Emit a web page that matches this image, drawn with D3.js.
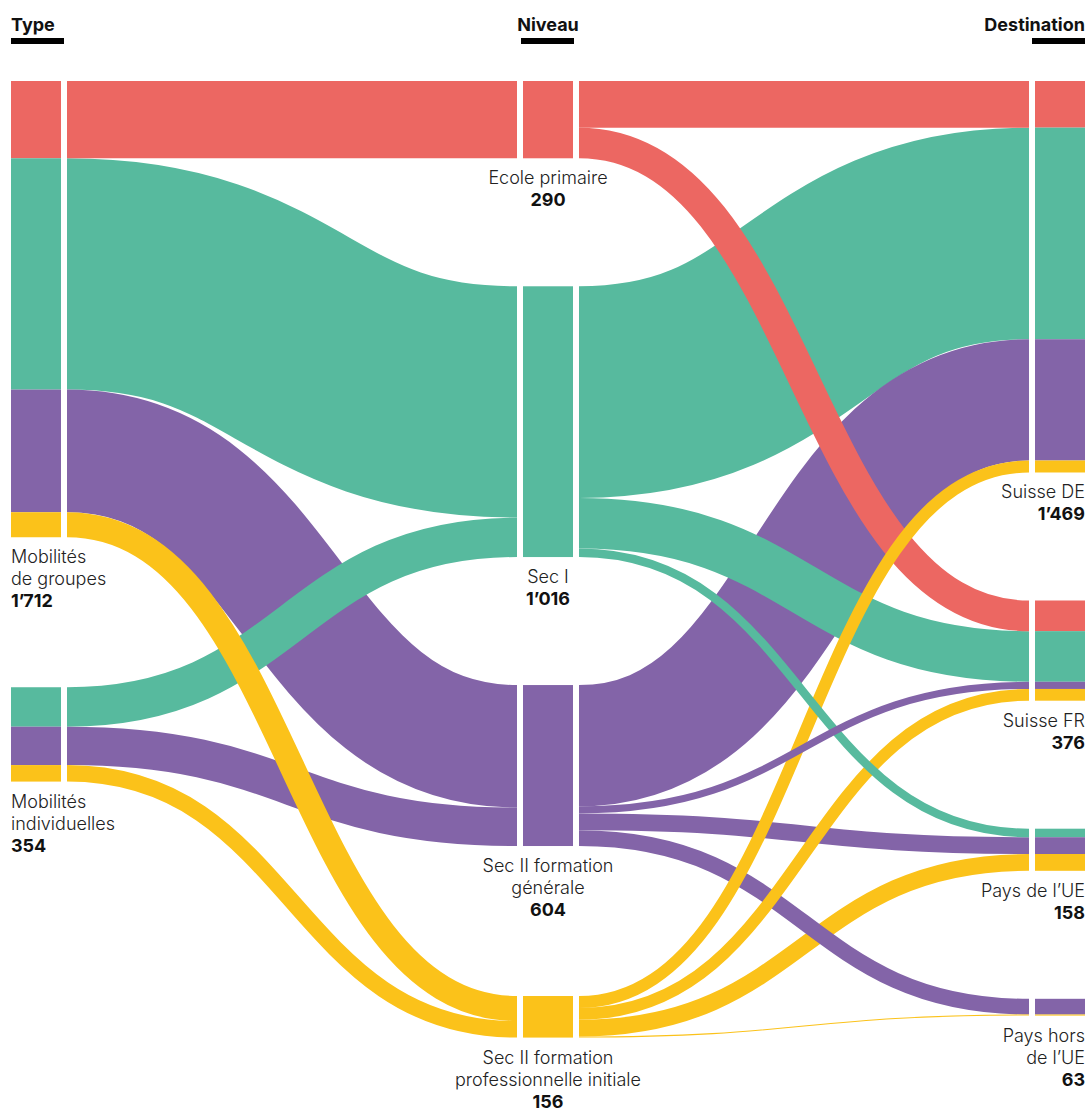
<!DOCTYPE html>
<html>
<head>
<meta charset="utf-8">
<script src="https://cdn.jsdelivr.net/npm/d3@7"></script>
<style>
  body { margin: 0; background: #fff; }
  svg { display: block; font-family: Inter, "Noto Sans", sans-serif; }
  .lbl { font-size: 18px; font-weight: 300; fill: #222; }
  .num { font-size: 18px; font-weight: 700; fill: #111; }
  .head { font-size: 18px; font-weight: 700; fill: #111; }
</style>
</head>
<body>
<svg class="sankey"></svg>
<script>
var headers = ["Type", "Niveau", "Destination"];

var types = [["Mobilités", "de groupes"], ["Mobilités", "individuelles"]];
var niveaux = [["Ecole primaire"], ["Sec I"], ["Sec II formation", "générale"], ["Sec II formation", "professionnelle initiale"]];
var destinations = [["Suisse DE"], ["Suisse FR"], ["Pays de l’UE"], ["Pays hors", "de l’UE"]];

// rows: type, columns: niveau
var typeToNiveau = [
    [290, 868, 460, 94],
    [0, 148, 144, 62]
];
// rows: niveau, columns: destination
var niveauToDest = [
    [175, 115, 0, 0],
    [794, 190, 32, 0],
    [455, 27, 63, 59],
    [45, 44, 63, 4]
];

var niveauColors = ["#EC6762", "#57BA9E", "#8364A8", "#FBC21A"];

var svgWidth = 1089, svgHeight = 1110;
var nodeWidth = 50, linkGap = 6, top0 = 81, k = 0.2665;
var basePad = 128, linePad = 22;
var colX = [11, 523, 1035];

var svg = d3.select(".sankey")
    .attr("width", svgWidth)
    .attr("height", svgHeight);

var fmt = d3.formatLocale({decimal: ".", thousands: "’", grouping: [3], currency: ["", ""]}).format(",d");

// build nodes
var columns = [types, niveaux, destinations].map(function(names, c) {
    return names.map(function(lines, i) {
        var v;
        if (c === 0) v = d3.sum(typeToNiveau[i]);
        else if (c === 1) v = d3.sum(typeToNiveau, function(r) { return r[i]; });
        else v = d3.sum(niveauToDest, function(r) { return r[i]; });
        return {col: c, index: i, lines: lines, value: v, x0: colX[c], x1: colX[c] + nodeWidth};
    });
});

columns.forEach(function(nodes) {
    var y = top0;
    nodes.forEach(function(n) {
        n.y0 = y;
        n.y1 = y + n.value * k;
        n.outY = n.y0;
        n.inY = n.y0;
        y = n.y1 + basePad + linePad * (n.lines.length - 1);
    });
});

// build links
var links = [];
function addLinks(matrix, srcCol, tgtCol, colorOf) {
    var src = columns[srcCol], tgt = columns[tgtCol];
    var list = [];
    matrix.forEach(function(row, i) {
        row.forEach(function(v, j) {
            if (v > 0) list.push({source: src[i], target: tgt[j], value: v, color: colorOf(i, j), w: v * k});
        });
    });
    // stack at source (by target order) and at target (by source order)
    src.forEach(function(s) {
        list.filter(function(l) { return l.source === s; })
            .sort(function(a, b) { return a.target.index - b.target.index; })
            .forEach(function(l) { l.sy = s.outY + l.w / 2; s.outY += l.w; });
    });
    tgt.forEach(function(t) {
        list.filter(function(l) { return l.target === t; })
            .sort(function(a, b) { return a.source.index - b.source.index; })
            .forEach(function(l) { l.ty = t.inY + l.w / 2; t.inY += l.w; });
    });
    links = links.concat(list);
}
addLinks(typeToNiveau, 0, 1, function(i, j) { return niveauColors[j]; });
addLinks(niveauToDest, 1, 2, function(i, j) { return niveauColors[i]; });

var linkPath = d3.linkHorizontal()
    .source(function(d) { return [d.source.x1 + linkGap, d.sy]; })
    .target(function(d) { return [d.target.x0 - linkGap, d.ty]; });

// wide flows first, thin flows drawn on top
svg.append("g")
    .attr("fill", "none")
    .selectAll("path")
    .data(links.slice().sort(function(a, b) { return b.value - a.value; }))
    .enter()
    .append("path")
    .attr("d", linkPath)
    .attr("stroke", function(d) { return d.color; })
    .attr("stroke-width", function(d) { return d.w; });

// node segments: left and right nodes are split by link colour, middle nodes plain
var segs = [];
links.forEach(function(l) {
    if (l.source.col === 0) segs.push({x: l.source.x0, y: l.sy - l.w / 2, h: l.w, color: l.color});
    if (l.target.col === 2) segs.push({x: l.target.x0, y: l.ty - l.w / 2, h: l.w, color: l.color});
});
columns[1].forEach(function(n) {
    segs.push({x: n.x0, y: n.y0, h: n.y1 - n.y0, color: niveauColors[n.index]});
});

svg.append("g")
    .selectAll("rect")
    .data(segs)
    .enter()
    .append("rect")
    .attr("x", function(d) { return d.x; })
    .attr("y", function(d) { return d.y; })
    .attr("width", nodeWidth)
    .attr("height", function(d) { return d.h; })
    .attr("fill", function(d) { return d.color; });

// labels
var anchors = ["start", "middle", "end"];
var labelX = [colX[0], colX[1] + nodeWidth / 2, colX[2] + nodeWidth];

columns.forEach(function(nodes, c) {
    nodes.forEach(function(n) {
        var t = svg.append("text")
            .attr("text-anchor", anchors[c])
            .attr("x", labelX[c])
            .attr("y", n.y1 + 26);
        n.lines.forEach(function(line, i) {
            t.append("tspan")
                .attr("class", "lbl")
                .attr("x", labelX[c])
                .attr("dy", i === 0 ? 0 : linePad)
                .text(line);
        });
        t.append("tspan")
            .attr("class", "num")
            .attr("x", labelX[c])
            .attr("dy", linePad)
            .text(fmt(n.value));
    });
});

// column headers with bar underneath
headers.forEach(function(h, c) {
    svg.append("text")
        .attr("class", "head")
        .attr("text-anchor", anchors[c])
        .attr("x", labelX[c])
        .attr("y", 31)
        .text(h);
    var barX = c === 0 ? colX[0] : (c === 1 ? colX[1] - 2 : colX[2] - 3);
    svg.append("rect")
        .attr("x", barX)
        .attr("y", 38)
        .attr("width", 53)
        .attr("height", 6)
        .attr("fill", "#000");
});
</script>
</body>
</html>
